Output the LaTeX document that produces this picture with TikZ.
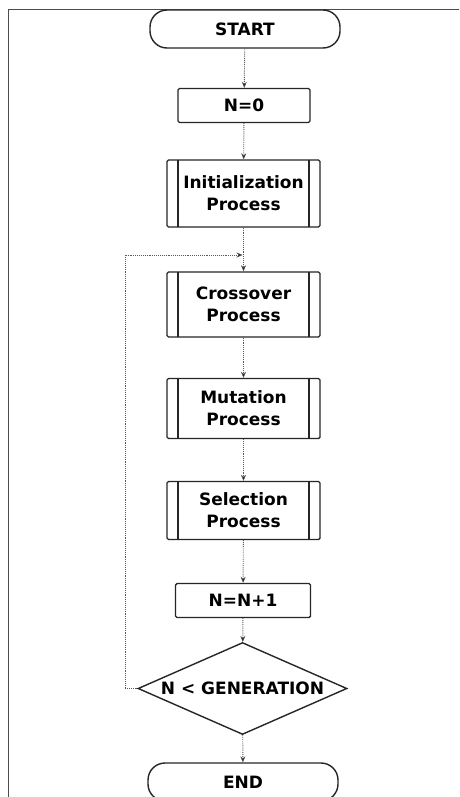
\documentclass[tikz,border=0pt]{standalone}
\usepackage{fontspec}
\setmainfont{DejaVu Sans}
\usetikzlibrary{shapes.geometric,arrows.meta}

\tikzset{
  base/.style={draw=black!85, line width=1.4pt, fill=white, align=center,
    font=\fontsize{17}{22}\selectfont\bfseries, inner sep=0pt},
  terminal/.style={base, rounded corners=17pt, minimum width=190pt, minimum height=38pt},
  opbox/.style={base, rounded corners=1.5pt, minimum height=34pt},
  subproc/.style={base, rounded corners=1.5pt, minimum width=153pt,
    path picture={
      \draw[black!85, line width=1.2pt]
        ([xshift=11pt]path picture bounding box.north west) --
        ([xshift=11pt]path picture bounding box.south west)
        ([xshift=-11pt]path picture bounding box.north east) --
        ([xshift=-11pt]path picture bounding box.south east);
    }},
  decision/.style={base, diamond, aspect=2.27, minimum width=209pt, minimum height=92pt},
  flow/.style={draw=black!65, line width=0.9pt, densely dotted,
    -{Stealth[length=6pt,width=5pt,fill=black!85,line width=0.4pt]}},
  frame/.style={draw=black!70, line width=1.7pt}
}

\begin{document}
\begin{tikzpicture}[x=1pt, y=-1pt]
  \useasboundingbox (0,0) rectangle (459,797);
  \clip (0,0) rectangle (459,797);

  % page frame (top and left edges)
  \draw[frame] (8.5,800) -- (8.5,9.5) -- (462,9.5);

  % flowchart nodes
  \node[terminal] (start) at (245,29) {START};
  \node[opbox, minimum width=132pt] (n0) at (244,105.5) {N=0};
  \node[subproc, minimum height=67pt] (init) at (243.5,193.5) {Initialization\\Process};
  \node[subproc, minimum height=65pt] (cross) at (243.5,304.5) {Crossover\\Process};
  \node[subproc, minimum height=60pt] (mut) at (243.5,408.5) {Mutation\\Process};
  \node[subproc, minimum height=58pt] (sel) at (243.5,510.5) {Selection\\Process};
  \node[opbox, minimum width=135pt] (inc) at (243,600.5) {N=N+1};
  \node[decision] (cond) at (242.5,688.5) {N < GENERATION};
  \node[terminal] (end) at (243,782) {END};

  % loop junction above the crossover step
  \coordinate (join) at (243.5,255);
  \coordinate (loopL) at (125,688.5);
  \coordinate (loopT) at (125,255);

  % connectors
  \draw[flow] (start) -- (n0);
  \draw[flow] (n0) -- (init);
  \draw[flow] (init) -- (cross);
  \draw[flow] (cross) -- (mut);
  \draw[flow] (mut) -- (sel);
  \draw[flow] (sel) -- (inc);
  \draw[flow] (inc) -- (cond);
  \draw[flow] (cond) -- (end);
  \draw[flow] (cond.west) -- (loopL) -- (loopT) -- ([xshift=-1pt]join);
\end{tikzpicture}
\end{document}
